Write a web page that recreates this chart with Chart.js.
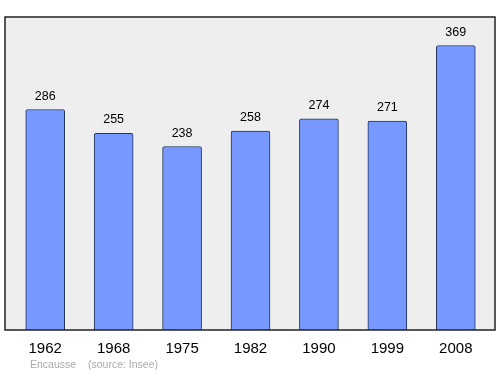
<!DOCTYPE html>
<html>
<head>
<meta charset="utf-8">
<script src="https://cdn.jsdelivr.net/npm/chart.js@4/dist/chart.umd.min.js"></script>
<style>
  html, body { margin: 0; padding: 0; background: #fff; }
</style>
</head>
<body>
<canvas id="chartPop" width="500" height="374"></canvas>
<script>
const annees = ["1962", "1968", "1975", "1982", "1990", "1999", "2008"];
const population = [286, 255, 238, 258, 274, 271, 369];
const commune = "Encausse";
const source = "(source: Insee)";

// cadre gris derrière les barres
const cadre = {
  id: "cadre",
  beforeDraw(chart) {
    const { ctx, chartArea: a } = chart;
    ctx.save();
    ctx.fillStyle = "#eeeeee";
    ctx.fillRect(a.left - 6, a.top, a.right - a.left + 11, a.bottom - a.top);
    ctx.restore();
  },
  afterDatasetsDraw(chart) {
    const { ctx, chartArea: a } = chart;
    ctx.save();
    ctx.strokeStyle = "#222";
    ctx.lineWidth = 1.5;
    ctx.strokeRect(a.left - 6, a.top, a.right - a.left + 11, a.bottom - a.top);
    ctx.restore();
  }
};

// valeurs au-dessus des barres + pied de page
const etiquettes = {
  id: "etiquettes",
  afterDatasetsDraw(chart) {
    const { ctx } = chart;
    const meta = chart.getDatasetMeta(0);
    ctx.save();
    ctx.font = "12.5px 'Liberation Sans', Arial, sans-serif";
    ctx.fillStyle = "#000";
    ctx.textAlign = "center";
    ctx.textBaseline = "alphabetic";
    meta.data.forEach((bar, i) => {
      ctx.fillText(String(population[i]), bar.x, bar.y - 10);
    });
    ctx.font = "10.5px 'Liberation Sans', Arial, sans-serif";
    ctx.fillStyle = "#aaaaaa";
    ctx.textAlign = "left";
    ctx.fillText(commune, 30, 368);
    ctx.fillText(source, 88, 368);
    ctx.restore();
  }
};

new Chart(document.getElementById("chartPop"), {
  type: "bar",
  data: {
    labels: annees,
    datasets: [{
      data: population,
      backgroundColor: "#7799ff",
      borderColor: "#223355",
      borderWidth: 1,
      borderRadius: 2,
      borderSkipped: "bottom",
      barThickness: 39
    }]
  },
  options: {
    responsive: false,
    animation: false,
    devicePixelRatio: 1,
    layout: { padding: { left: 11, right: 10, top: 17, bottom: 6 } },
    plugins: { legend: { display: false }, tooltip: { enabled: false } },
    scales: {
      x: {
        grid: { display: false, drawTicks: false },
        border: { display: false },
        ticks: {
          color: "#000",
          font: { size: 15, family: "'Liberation Sans', Arial, sans-serif" },
          padding: 10
        }
      },
      y: { display: false, min: 0, max: 406 }
    }
  },
  plugins: [cadre, etiquettes]
});
</script>
</body>
</html>
